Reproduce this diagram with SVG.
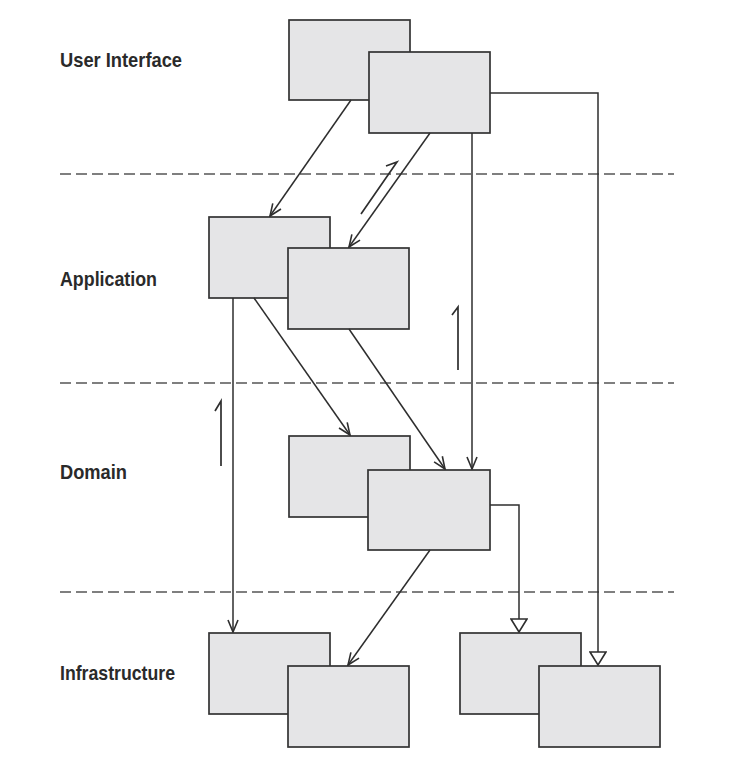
<svg xmlns="http://www.w3.org/2000/svg" width="731" height="779" viewBox="0 0 731 779">
<style>
.box{fill:#e5e5e7;stroke:#333;stroke-width:1.7}
.lane{stroke:#555;stroke-width:1.6;stroke-dasharray:11 5;fill:none}
.lbl{font-family:"Liberation Sans Narrow","Liberation Sans",Arial,sans-serif;font-weight:bold;font-size:21px;fill:#2a2a2a}
.c{fill:none;stroke:#2e2e2e;stroke-width:1.5}
.half{fill:none;stroke:#2e2e2e;stroke-width:1.7;stroke-linejoin:miter}
</style>
<defs>
<marker id="open" viewBox="0 0 14 12" markerWidth="14" markerHeight="12" refX="13" refY="6" orient="auto" markerUnits="userSpaceOnUse">
<path d="M1,1 L13,6 L1,11" fill="none" stroke="#2e2e2e" stroke-width="1.6"/>
</marker>
<marker id="tri" viewBox="0 0 15 18" markerWidth="15" markerHeight="18" refX="14" refY="9" orient="auto" markerUnits="userSpaceOnUse">
<path d="M1,1 L14,9 L1,17 Z" fill="#fff" stroke="#2e2e2e" stroke-width="1.6"/>
</marker>
</defs>
<rect width="731" height="779" fill="#fff"/>
<g id="lanes">
<line class="lane" x1="60" y1="174" x2="674" y2="174"/>
<line class="lane" x1="60" y1="383" x2="674" y2="383"/>
<line class="lane" x1="60" y1="592" x2="674" y2="592"/>
</g>
<g id="labels">
<text class="lbl" x="60" y="67" textLength="122" lengthAdjust="spacingAndGlyphs">User Interface</text>
<text class="lbl" x="60" y="286" textLength="97" lengthAdjust="spacingAndGlyphs">Application</text>
<text class="lbl" x="60" y="479" textLength="67" lengthAdjust="spacingAndGlyphs">Domain</text>
<text class="lbl" x="60" y="680" textLength="115" lengthAdjust="spacingAndGlyphs">Infrastructure</text>
</g>
<g id="ui-a"><rect class="box" x="289" y="20" width="121" height="80"/></g>
<g id="ui-b"><rect class="box" x="369" y="52" width="121" height="81"/></g>
<g id="app-a"><rect class="box" x="209" y="217" width="121" height="81"/></g>
<g id="app-b"><rect class="box" x="288" y="248" width="121" height="81"/></g>
<g id="dom-a"><rect class="box" x="289" y="436" width="121" height="81"/></g>
<g id="dom-b"><rect class="box" x="368" y="470" width="122" height="80"/></g>
<g id="inf-a"><rect class="box" x="209" y="633" width="121" height="81"/></g>
<g id="inf-b"><rect class="box" x="288" y="666" width="121" height="81"/></g>
<g id="inf-c"><rect class="box" x="460" y="633" width="121" height="81"/></g>
<g id="inf-d"><rect class="box" x="539" y="666" width="121" height="81"/></g>
<g id="connectors">
<line class="c" x1="351" y1="100" x2="270" y2="216" marker-end="url(#open)"/>
<line class="c" x1="430" y1="133" x2="349" y2="247" marker-end="url(#open)"/>
<line class="c" x1="472" y1="133" x2="472" y2="469" marker-end="url(#open)"/>
<polyline class="c" points="490,93 598,93 598,665" marker-end="url(#tri)"/>
<line class="c" x1="233" y1="298" x2="233" y2="632" marker-end="url(#open)"/>
<line class="c" x1="254" y1="298" x2="350" y2="435" marker-end="url(#open)"/>
<line class="c" x1="349" y1="329" x2="445" y2="469" marker-end="url(#open)"/>
<polyline class="c" points="490,505 519,505 519,632" marker-end="url(#tri)"/>
<line class="c" x1="430" y1="550" x2="348" y2="665" marker-end="url(#open)"/>
<path class="half" d="M361,214 L397,162 L386,166"/>
<path class="half" d="M458,370 L458,307 L452,315"/>
<path class="half" d="M221,466 L221,401 L215,411"/>
</g>
</svg>
